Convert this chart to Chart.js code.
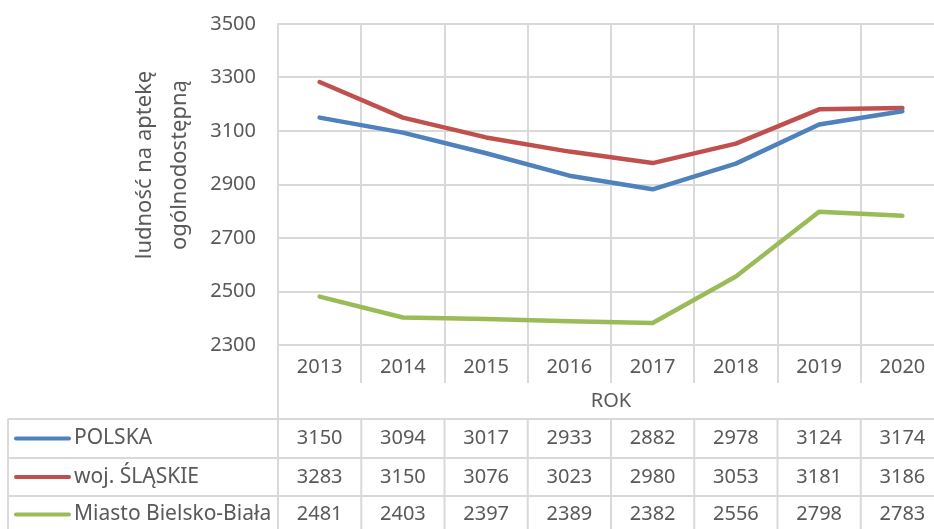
<!DOCTYPE html>
<html>
<head>
<meta charset="utf-8">
<script src="https://cdn.jsdelivr.net/npm/chart.js@4/dist/chart.umd.min.js"></script>
<style>
  html, body { margin: 0; padding: 0; background: #fff; overflow: hidden; }
  #wrap { width: 946px; height: 529px; }
</style>
</head>
<body>
<div id="wrap"><canvas id="chart" width="946" height="529"></canvas></div>
<script>
// data
const years = ['2013', '2014', '2015', '2016', '2017', '2018', '2019', '2020'];
const seriesNames = ['POLSKA', 'woj. ŚLĄSKIE', 'Miasto Bielsko-Biała'];
const polska = [3150, 3094, 3017, 2933, 2882, 2978, 3124, 3174];
const slaskie = [3283, 3150, 3076, 3023, 2980, 3053, 3181, 3186];
const bielsko = [2481, 2403, 2397, 2389, 2382, 2556, 2798, 2783];
const colors = ['#4F81BD', '#C0504D', '#9BBB59'];
const yTitle = ['ludność na aptekę', 'ogólnodostępną'];

const gridColor = '#d9d9d9';
const textColor = '#595959';
const fontFamily = '"Noto Sans", sans-serif';

// data table under the plot, columns follow the x scale
const tablePlugin = {
    id: 'tablePlugin',
    afterDraw(chart) {
        const ctx = chart.ctx;
        const x = chart.scales.x;
        const area = chart.chartArea;
        const rows = [419, 458, 496];
        const bottom = chart.height;
        const all = [polska, slaskie, bielsko];

        ctx.save();
        ctx.strokeStyle = gridColor;
        ctx.lineWidth = 2;

        // left edge of the plot continues down
        ctx.beginPath();
        ctx.moveTo(area.left, area.bottom);
        ctx.lineTo(area.left, bottom);
        ctx.stroke();

        // table horizontal lines
        rows.forEach(function (y) {
            ctx.beginPath();
            ctx.moveTo(8, y);
            ctx.lineTo(chart.width, y);
            ctx.stroke();
        });
        ctx.beginPath();
        ctx.moveTo(8, rows[0]);
        ctx.lineTo(8, bottom);
        ctx.stroke();

        // column separators
        for (let i = 0; i < years.length; i++) {
            let edge;
            if (i < years.length - 1) {
                edge = (x.getPixelForValue(i) + x.getPixelForValue(i + 1)) / 2;
            } else {
                edge = area.right;
            }
            ctx.beginPath();
            ctx.moveTo(edge, rows[0]);
            ctx.lineTo(edge, bottom);
            ctx.stroke();
        }

        // legend keys + names + values
        ctx.textBaseline = 'middle';
        for (let r = 0; r < all.length; r++) {
            const top = rows[r];
            const next = r < rows.length - 1 ? rows[r + 1] : top + 37;
            const cy = (top + next) / 2;

            ctx.strokeStyle = colors[r];
            ctx.lineWidth = 4;
            ctx.lineCap = 'round';
            ctx.beginPath();
            ctx.moveTo(16, cy);
            ctx.lineTo(69, cy);
            ctx.stroke();

            ctx.fillStyle = textColor;
            ctx.textAlign = 'left';
            ctx.font = '21px ' + fontFamily;
            ctx.fillText(seriesNames[r], 74, cy);

            ctx.textAlign = 'center';
            ctx.font = '20px ' + fontFamily;
            all[r].forEach(function (v, i) {
                ctx.fillText(String(v), x.getPixelForValue(i), cy);
            });
        }

        // y axis title (two lines, rotated)
        ctx.font = '22px ' + fontFamily;
        ctx.translate(163, 165);
        ctx.rotate(-Math.PI / 2);
        ctx.textAlign = 'center';
        ctx.fillText(yTitle[0], 0, -18);
        ctx.fillText(yTitle[1], 0, 17);
        ctx.restore();
    }
};

const ctx = document.getElementById('chart').getContext('2d');

const chart = new Chart(ctx, {
    type: 'line',
    data: {
        labels: years,
        datasets: [
            { label: seriesNames[0], data: polska, borderColor: colors[0] },
            { label: seriesNames[1], data: slaskie, borderColor: colors[1] },
            { label: seriesNames[2], data: bielsko, borderColor: colors[2] }
        ]
    },
    options: {
        responsive: false,
        animation: false,
        layout: { padding: { left: 0, right: 2, top: 24, bottom: 109 } },
        elements: {
            line: { borderWidth: 4.5, tension: 0, borderCapStyle: 'round', borderJoinStyle: 'round', fill: false },
            point: { radius: 0, hoverRadius: 0 }
        },
        plugins: {
            legend: { display: false },
            tooltip: { enabled: false }
        },
        scales: {
            x: {
                offset: true,
                grid: { offset: true, color: gridColor, lineWidth: 2, drawTicks: true, tickLength: 38 },
                border: { color: gridColor, width: 2 },
                ticks: { color: textColor, font: { family: fontFamily, size: 20 }, padding: -28, maxRotation: 0 },
                title: {
                    display: true, text: 'ROK', color: textColor,
                    font: { family: fontFamily, size: 20 }, padding: { top: 0, bottom: 7 }
                },
                afterFit(scale) { scale.height = 75; }
            },
            y: {
                min: 2300,
                max: 3500,
                ticks: {
                    stepSize: 200, color: textColor, font: { family: fontFamily, size: 20 }, padding: 22,
                    callback: function (v) { return String(v); }
                },
                grid: { color: gridColor, lineWidth: 2, drawTicks: false },
                border: { color: gridColor, width: 2 },
                afterFit(scale) {
                    scale.width = 278;
                    scale.paddingTop = 0;
                    scale.paddingBottom = 0;
                }
            }
        }
    },
    plugins: [tablePlugin]
});
</script>
</body>
</html>
